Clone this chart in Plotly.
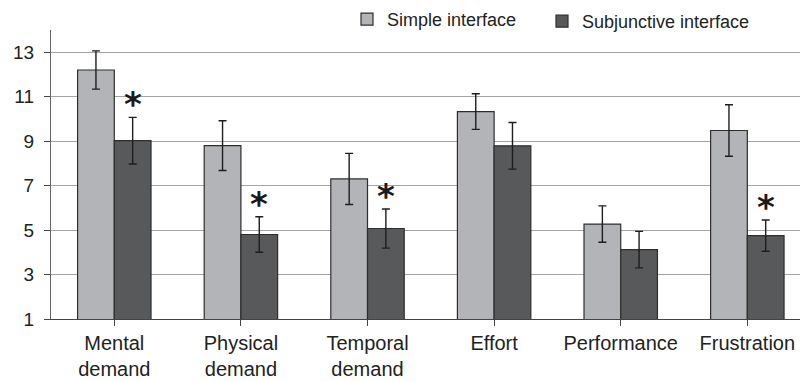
import plotly.graph_objects as go

# NASA-TLX workload subscales, mean scores with error bars
categories = ["Mental<br>demand", "Physical<br>demand", "Temporal<br>demand",
              "Effort", "Performance", "Frustration"]
simple_mean = [12.2, 8.8, 7.3, 10.33, 5.27, 9.48]
simple_err = [0.86, 1.12, 1.15, 0.8, 0.82, 1.16]
subj_mean = [9.02, 4.8, 5.07, 8.79, 4.12, 4.75]
subj_err = [1.05, 0.8, 0.88, 1.05, 0.82, 0.7]
significant = [True, True, True, False, False, True]
y_ticks = [1, 3, 5, 7, 9, 11, 13]

FONT = "Liberation Sans, Arial, sans-serif"
BARGAP = 0.42
x_idx = list(range(len(categories)))

fig = go.Figure()
fig.add_trace(go.Bar(
    x=x_idx, y=simple_mean, name="Simple interface",
    marker=dict(color="#b3b4b7", line=dict(color="#2e2e2e", width=1.2)),
    error_y=dict(type="data", array=simple_err, color="#1e1e1e", thickness=1.4, width=4),
    legend="legend", showlegend=True,
))
fig.add_trace(go.Bar(
    x=x_idx, y=subj_mean, name="Subjunctive interface",
    marker=dict(color="#58595b", line=dict(color="#2e2e2e", width=1.2)),
    error_y=dict(type="data", array=subj_err, color="#1e1e1e", thickness=1.4, width=4),
    legend="legend2", showlegend=True,
))

# significance markers above the subjunctive bars
bar_w = (1 - BARGAP) / 2
for i, sig in enumerate(significant):
    if sig:
        fig.add_annotation(
            x=i + bar_w / 2, y=subj_mean[i] + subj_err[i],
            xref="x", yref="y", text="<b>*</b>", showarrow=False,
            yanchor="bottom", yshift=-9,
            font=dict(family="DejaVu Sans", size=34, color="#1a1a1a"),
        )

fig.update_layout(
    width=800, height=381,
    margin=dict(l=51, r=0, t=30, b=62),
    paper_bgcolor="white", plot_bgcolor="white",
    barmode="group", bargap=BARGAP, bargroupgap=0,
    font=dict(family=FONT, color="#222"),
    showlegend=True,
    legend=dict(x=(347 - 51) / 749, y=(319 - 19.5) / 289, xanchor="left", yanchor="middle",
                font=dict(size=18, family=FONT, color="#222"), bgcolor="rgba(0,0,0,0)"),
    legend2=dict(x=(542 - 51) / 749, y=(319 - 21.5) / 289, xanchor="left", yanchor="middle",
                 font=dict(size=18, family=FONT, color="#222"), bgcolor="rgba(0,0,0,0)"),
    xaxis=dict(
        range=[-0.5, 5.416], tickmode="array", tickvals=x_idx, ticktext=categories,
        showgrid=False, showline=True, linecolor="#444", linewidth=1.2,
        ticks="outside", tickson="boundaries", ticklen=6, tickcolor="#444",
        tickfont=dict(size=20, family=FONT, color="#222"), zeroline=False,
    ),
    yaxis=dict(
        range=[1, 14], tickmode="array", tickvals=y_ticks,
        showgrid=True, gridcolor="#a4a4a4", gridwidth=1,
        showline=True, linecolor="#666", linewidth=1.2,
        ticks="outside", ticklen=6, tickcolor="#444",
        tickfont=dict(size=19, family=FONT, color="#222"), zeroline=False,
        ticklabelstandoff=6,
    ),
)

fig.write_html("out.html")
